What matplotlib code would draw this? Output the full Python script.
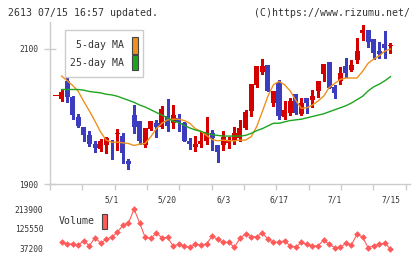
import numpy as np
import matplotlib
matplotlib.use('Agg')
from matplotlib import pyplot as plt
from matplotlib.patches import Rectangle

W, H = 420, 259
RED = '#d40000'
BLUE = '#3c3cbe'
ORANGE = '#f0901e'
GREEN = '#1ea51e'
VOLCOL = '#ff5a5a'
GREY = '#cccccc'
TXT = '#333333'
MONO = 'DejaVu Sans Mono'

# daily prices (yen)
opens = [2030, 2026, 2053, 2029, 1999, 1984, 1973, 1959, 1952, 1958,
         1964, 1974, 1971, 1934, 2002, 1993, 1958, 1982, 1991, 1985,
         2001, 1990, 1998, 1991, 1963, 1955, 1959, 1963, 1975, 1958,
         1958, 1961, 1964, 1968, 1983, 2008, 2047, 2066, 2076, 2020,
         2050, 2000, 2005, 2033, 2004, 2027, 2024, 2038, 2063, 2080,
         2044, 2053, 2075, 2069, 2083, 2124, 2128, 2115, 2097, 2108,
         2105]
highs = [2030, 2039, 2059, 2030, 2003, 1984, 1978, 1964, 1966, 1970,
         1965, 1982, 1975, 1937, 2017, 1993, 1983, 1993, 1995, 2016,
         2026, 2017, 2004, 1992, 1968, 1971, 1977, 1999, 1980, 1958,
         1978, 1969, 1984, 1995, 2009, 2048, 2075, 2085, 2076, 2038,
         2054, 2023, 2027, 2033, 2027, 2027, 2039, 2053, 2078, 2080,
         2047, 2073, 2086, 2083, 2116, 2136, 2128, 2115, 2110, 2127,
         2109]
lows = [2030, 2023, 2022, 1996, 1984, 1964, 1957, 1948, 1949, 1946,
        1937, 1951, 1931, 1922, 1975, 1960, 1955, 1980, 1969, 1983,
        1979, 1983, 1979, 1964, 1952, 1949, 1955, 1960, 1950, 1933,
        1950, 1953, 1960, 1963, 1981, 2001, 2044, 2063, 2038, 2015,
        1997, 1996, 2002, 2004, 2002, 2005, 2014, 2029, 2053, 2042,
        2028, 2048, 2059, 2068, 2079, 2114, 2103, 2085, 2087, 2087,
        2094]
closes = [2030, 2036, 2029, 2002, 1986, 1972, 1959, 1953, 1964, 1968,
          1962, 1975, 1946, 1930, 1984, 1964, 1983, 1993, 1985, 2011,
          1986, 2002, 1992, 1964, 1959, 1959, 1964, 1977, 1968, 1948,
          1970, 1963, 1975, 1983, 2007, 2048, 2075, 2075, 2038, 2038,
          2001, 2010, 2023, 2005, 2020, 2020, 2030, 2053, 2078, 2042,
          2035, 2065, 2065, 2076, 2097, 2128, 2111, 2094, 2092, 2101,
          2106]
nan = np.nan
ma5 = [nan, 2060, 2053, 2046, 2037, 2022, 2008, 1993, 1977, 1965,
       1962, 1962, 1961, 1960, 1957, 1959, 1960, 1970, 1982, 1990,
       1995, 1996, 1996, 1994, 1990, 1982, 1978, 1972, 1966, 1964,
       1965, 1964, 1964, 1965, 1965, 1970, 1985, 2007, 2030, 2047,
       2052, 2047, 2038, 2024, 2012, 2013, 2017, 2023, 2030, 2043,
       2049, 2055, 2057, 2057, 2057, 2067, 2079, 2085, 2090, 2097,
       2100]
ma25 = [nan, 2040, 2040, 2040, 2040, 2039, 2037, 2036, 2035, 2033,
        2032, 2030, 2027, 2024, 2021, 2017, 2014, 2010, 2006, 2002,
        1998, 1993, 1991, 1987, 1983, 1980, 1978, 1975, 1973, 1972,
        1971, 1971, 1971, 1971, 1972, 1975, 1979, 1982, 1986, 1990,
        1990, 1992, 1994, 1995, 1996, 1998, 2000, 2002, 2004, 2007,
        2010, 2013, 2016, 2020, 2025, 2030, 2038, 2044, 2048, 2053,
        2059]
volume = [nan, 64200, 55200, 57900, 52000, 71400, 48900, 84900, 61000, 76800,
          88000, 109100, 140600, 151000, 213000, 151900, 85800, 82200, 106000, 84900,
          85800, 48400, 55200, 46200, 41700, 55200, 53400, 56500, 91600, 77700,
          64200, 64200, 41700, 82200, 101500, 89400, 89400, 107300, 79000, 64200,
          64200, 71400, 47500, 41700, 64200, 55200, 48900, 47500, 74500, 55200,
          39900, 41700, 59700, 52000, 101500, 86700, 39900, 48900, 55200, 59700,
          34000]

date_pos = [10, 20, 30, 40, 50, 60]
date_labels = ['5/1', '5/20', '6/3', '6/17', '7/1', '7/15']
price_ticks = [1900, 2100]
vol_ticks = [37200, 125550, 213900]


def fx(px):
    return px / W


def fy(py):
    return 1 - py / H


fig = plt.figure(figsize=(W / 100, H / 100), dpi=100)
fig.patch.set_facecolor('white')

# candle i sits at pixel 56 + 5.575 * i
x0, dx = 56.0, 5.575
xlim = ((50 - x0) / dx, (410 - x0) / dx)

ax = fig.add_axes([fx(50), fy(184), fx(410) - fx(50), fy(22) - fy(184)])
ax.set_xlim(*xlim)
ax.set_ylim(1900, 2140)

x = np.arange(len(closes))
o = np.array(opens, float)
c = np.array(closes, float)
up = c >= o
cols = np.where(up, RED, BLUE)
body_lo = np.minimum(o, c)
body_h = np.maximum(np.abs(c - o), 1.5)
ax.vlines(x, lows, highs, colors=cols, linewidth=1.0, antialiased=False, zorder=3)
ax.bar(x, body_h, bottom=body_lo, width=0.9, color=cols, linewidth=0, zorder=3)
ax.plot(x, ma5, color=ORANGE, lw=1.0, zorder=4)
ax.plot(x, ma25, color=GREEN, lw=1.0, zorder=4)

for s in ['top', 'right']:
    ax.spines[s].set_visible(False)
for s in ['left', 'bottom']:
    ax.spines[s].set_color(GREY)
    ax.spines[s].set_linewidth(1.0)

ax.set_yticks(price_ticks)
ax.set_yticklabels([str(t) for t in price_ticks])
ax.tick_params(axis='y', direction='inout', length=8, width=1, color=GREY,
               labelcolor=TXT, labelsize=5.7, pad=4.5)
ax.set_xticks(date_pos)
ax.set_xticklabels(date_labels)
ax.set_xticks(np.arange(12) * 5.8 + xlim[0], minor=True)
ax.tick_params(axis='x', which='major', length=0, labelcolor=TXT,
               labelsize=5.7, pad=8)
ax.tick_params(axis='x', which='minor', length=4.5, width=1, color=GREY)
for lab in ax.get_xticklabels() + ax.get_yticklabels():
    lab.set_family(MONO)

# volume panel
vax = fig.add_axes([fx(50), fy(252), fx(410) - fx(50), fy(205) - fy(252)])
vax.set_xlim(*xlim)
vax.set_ylim(20560, 231900)
vax.plot(x, volume, color=VOLCOL, lw=0.8, marker='D', markersize=3.4,
         markeredgewidth=0)
for s in vax.spines.values():
    s.set_visible(False)
vax.set_xticks([])
vax.set_yticks(vol_ticks)
vax.set_yticklabels([str(t) for t in vol_ticks])
vax.tick_params(axis='y', length=0, labelcolor=TXT, labelsize=5.7, pad=4.8)
for lab in vax.get_yticklabels():
    lab.set_family(MONO)

# header
fig.text(fx(8), fy(12.5), '2613 07/15 16:57 updated.', family=MONO,
         fontsize=7.1, color=TXT, ha='left', va='center')
fig.text(fx(409.5), fy(12.5), '(C)https://www.rizumu.net/', family=MONO,
         fontsize=7.1, color=TXT, ha='right', va='center')

# price legend
fig.add_artist(Rectangle((fx(65), fy(77)), fx(143) - fx(65), fy(30) - fy(77),
                         transform=fig.transFigure, facecolor='white',
                         edgecolor=GREY, lw=1, zorder=5))
fig.text(fx(124.5), fy(45.5), '5-day MA', family=MONO, fontsize=7.1,
         color=TXT, ha='right', va='center', zorder=6)
fig.text(fx(124.5), fy(63), '25-day MA', family=MONO, fontsize=7.1,
         color=TXT, ha='right', va='center', zorder=6)
for top, bot, col in [(37, 54, ORANGE), (55, 69.5, GREEN)]:
    fig.add_artist(Rectangle((fx(131.5), fy(bot)), fx(137.5) - fx(131.5),
                             fy(top) - fy(bot), transform=fig.transFigure,
                             facecolor=col, edgecolor='#444444', lw=0.8,
                             zorder=6))

# volume legend
fig.text(fx(94.5), fy(221.5), 'Volume', family=MONO, fontsize=7.1,
         color=TXT, ha='right', va='center')
fig.add_artist(Rectangle((fx(101.5), fy(228.5)), fx(107.5) - fx(101.5),
                         fy(213.5) - fy(228.5), transform=fig.transFigure,
                         facecolor=VOLCOL, edgecolor='#444444', lw=0.8))

fig.savefig('out.png', dpi=100, facecolor='white')
